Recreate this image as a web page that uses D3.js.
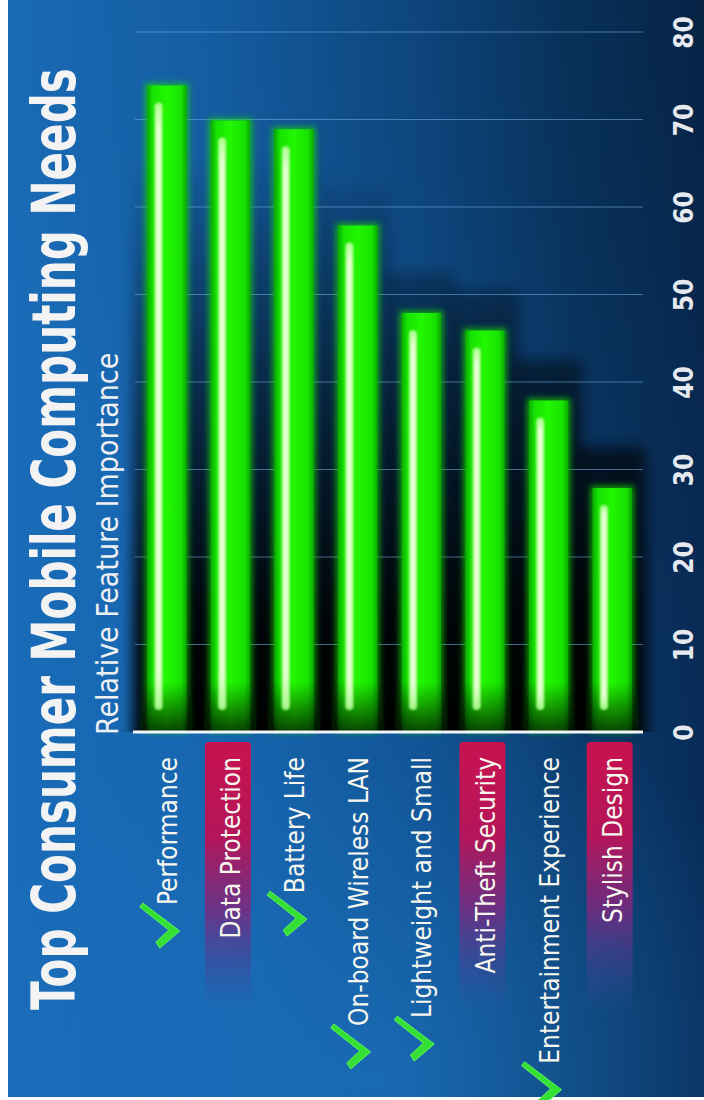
<!DOCTYPE html>
<html><head><meta charset="utf-8">
<script src="https://cdn.jsdelivr.net/npm/d3@7"></script>
<style>
body{margin:0;background:#fff;}
svg{display:block;}
.cond{font-family:'DejaVu Sans Condensed','DejaVu Sans',sans-serif;font-stretch:condensed;}
</style></head>
<body>
<script>
// ---- data ----
const categories = ["Performance","Data Protection","Battery Life","On-board Wireless LAN","Lightweight and Small","Anti-Theft Security","Entertainment Experience","Stylish Design"];
const values = [74,70,69,58,48,46,38,28];
const checked = [true,false,true,true,true,false,true,false];
const highlighted = [false,true,false,false,false,true,false,true];
const tickValues = [0,10,20,30,40,50,60,70,80];
const titleText = "Top Consumer Mobile Computing Needs";
const subtitleText = "Relative Feature Importance";

const W = 704, H = 1100;
const svg = d3.select("body").append("svg").attr("width", W).attr("height", H);
const defs = svg.append("defs");

function lin(id, attrs, stops){
  const g = defs.append("linearGradient").attr("id", id);
  Object.entries(attrs).forEach(([k,v])=>g.attr(k,v));
  stops.forEach(s=>g.append("stop").attr("offset",s[0]).attr("stop-color",s[1]).attr("stop-opacity",s[2]===undefined?1:s[2]));
}
lin("bgH",{x1:0,y1:0,x2:1,y2:0},[[0,"#1a6cb8"],[0.3,"#1664ae"],[0.6,"#0f4f8e"],[0.82,"#0a3a6a"],[1,"#082c58"]]);
const rg1 = defs.append("radialGradient").attr("id","topDark").attr("gradientUnits","userSpaceOnUse").attr("cx",704).attr("cy",0).attr("r",760);
rg1.append("stop").attr("offset",0).attr("stop-color","#000").attr("stop-opacity",0.22);
rg1.append("stop").attr("offset",1).attr("stop-color","#000").attr("stop-opacity",0);
const rg2 = defs.append("radialGradient").attr("id","botLight").attr("gradientUnits","userSpaceOnUse").attr("cx",380).attr("cy",1080).attr("r",420);
rg2.append("stop").attr("offset",0).attr("stop-color","#1f78c6").attr("stop-opacity",0.6);
rg2.append("stop").attr("offset",1).attr("stop-color","#1f78c6").attr("stop-opacity",0);
lin("shadowG",{gradientUnits:"userSpaceOnUse",x1:0,y1:150,x2:0,y2:730},[[0,"#000",0],[0.45,"#000",0.55],[0.8,"#000",0.92],[1,"#000",1]]);
lin("barG",{x1:0,y1:0,x2:1,y2:0},[[0,"#0aa800"],[0.14,"#16e200"],[0.5,"#22f700"],[0.86,"#16e200"],[1,"#0aa800"]]);
lin("barBottom",{gradientUnits:"userSpaceOnUse",x1:0,y1:682,x2:0,y2:732},[[0,"#000",0],[1,"#000",0.72]]);
lin("stripeG",{x1:0,y1:0,x2:0,y2:1},[[0,"#eaffd8",0.3],[0.04,"#eaffd8",1],[0.94,"#eaffd8",1],[1,"#eaffd8",0.2]]);
lin("tagG",{x1:0,y1:0,x2:0,y2:1},[[0,"#c8124f",1],[0.35,"#b3165a",1],[0.62,"#7a2a80",0.85],[0.85,"#4a3f95",0.4],[1,"#3a50a0",0]]);

function blur(id, sd){
  defs.append("filter").attr("id",id).attr("x","-50%").attr("y","-20%").attr("width","200%").attr("height","140%")
    .append("feGaussianBlur").attr("stdDeviation",sd);
}
blur("blur7",7); blur("blur3",3); blur("blur1",1.3);

// background slide
["bgH","topDark","botLight"].forEach(id =>
  svg.append("rect").attr("x",8).attr("y",0).attr("width",W-8).attr("height",1097).attr("fill",`url(#${id})`));

// scales
const x = d3.scaleBand().domain(categories).range([135, 644]).padding(0);
const y = d3.scaleLinear().domain([0, 80]).range([732, 32]);
const bw = x.bandwidth();
const barW = bw * 0.65;
const barX = c => x(c) + (bw - barW) / 2;
const base = y(0);

defs.append("clipPath").attr("id","plotClip").append("rect").attr("x",0).attr("y",0).attr("width",W).attr("height",base);

// shadows behind bars
svg.append("g").attr("clip-path","url(#plotClip)").append("g").attr("filter","url(#blur7)")
  .selectAll("rect").data(categories).join("rect")
  .attr("x", c => x(c) - 2).attr("width", bw + 4)
  .attr("y", (c,i) => y(values[i]) - 40).attr("height", (c,i) => base - y(values[i]) + 60)
  .attr("fill","url(#shadowG)");

// gridlines
svg.append("g").selectAll("line").data(tickValues.filter(t=>t>0)).join("line")
  .attr("x1", 135).attr("x2", 643).attr("y1", d=>y(d)).attr("y2", d=>y(d))
  .attr("stroke","#6fa6dc").attr("stroke-opacity",0.6).attr("stroke-width",1.2);

// bars
const bars = svg.append("g").selectAll("g").data(categories).join("g");
bars.append("rect").attr("filter","url(#blur3)")
  .attr("x", c => barX(c) - 1).attr("width", barW + 2)
  .attr("y", (c,i) => y(values[i]) - 1).attr("height", (c,i) => base - y(values[i]) + 1)
  .attr("fill","#19e000").attr("opacity",0.7);
bars.append("rect")
  .attr("x", c => barX(c) + 1).attr("width", barW - 2)
  .attr("y", (c,i) => y(values[i]) + 1).attr("height", (c,i) => base - y(values[i]) - 1)
  .attr("fill","url(#barG)");
bars.append("rect")
  .attr("x", c => barX(c) - 3).attr("width", barW + 6)
  .attr("y", 682).attr("height", base - 682)
  .attr("fill","url(#barBottom)");
bars.append("rect").attr("filter","url(#blur1)")
  .attr("x", c => barX(c) + barW * 0.2).attr("width", barW * 0.2)
  .attr("y", (c,i) => y(values[i]) + 18).attr("height", (c,i) => (base - 22) - (y(values[i]) + 18))
  .attr("rx", 4)
  .attr("fill","#a8ff8a").attr("opacity",0.9);
bars.append("rect").attr("filter","url(#blur1)")
  .attr("x", c => barX(c) + barW * 0.24).attr("width", barW * 0.12)
  .attr("y", (c,i) => y(values[i]) + 20).attr("height", (c,i) => (base - 24) - (y(values[i]) + 20))
  .attr("rx", 3)
  .attr("fill","url(#stripeG)");

// baseline
svg.append("line").attr("x1",133).attr("x2",643).attr("y1",base).attr("y2",base)
  .attr("stroke","#f2f5fa").attr("stroke-width",3);

// value axis (rotated labels on right)
const axis = svg.append("g").attr("transform","translate(693,0)")
  .call(d3.axisRight(y).tickValues(tickValues).tickSize(0).tickPadding(0));
axis.select(".domain").remove();
axis.selectAll("text")
  .attr("x",0).attr("dy",0).attr("transform","rotate(-90)")
  .attr("text-anchor","middle")
  .style("font-family","'DejaVu Sans Condensed','DejaVu Sans',sans-serif")
  .style("font-stretch","condensed")
  .attr("font-size",26).attr("font-weight","bold").attr("fill","#e6e9ee");

// category tags + labels
const labelTop = base + 25;
svg.append("g").selectAll("rect").data(categories.filter((c,i)=>highlighted[i])).join("rect")
  .attr("x", c => x(c) + bw/2 - 2.5 - 23).attr("width", 46)
  .attr("y", base + 10).attr("height", 270).attr("rx", 4)
  .attr("fill","url(#tagG)");

const labels = svg.append("g").selectAll("g").data(categories).join("g")
  .attr("transform", c => `translate(${x(c) + bw/2 + 10},${labelTop}) rotate(-90)`);
labels.append("text")
  .attr("class","cond")
  .attr("text-anchor","end")
  .attr("font-size",26).attr("fill","#f6f6ee")
  .text(c => c);
labels.each(function(c,i){
  if(!checked[i]) return;
  const g = d3.select(this);
  const s = -g.select("text").node().getComputedTextLength();
  const pts = [[-43,-17],[-37,-21],[-25,-8],[-2,-37],[2,-34],[-26,3]];
  g.append("path")
    .attr("d", "M" + pts.map(p => [s + p[0], p[1]].join(",")).join("L") + "Z")
    .attr("fill","#35e035").attr("stroke","#5cf25c").attr("stroke-width",1).attr("stroke-linejoin","round");
});

// title & subtitle (horizontally compressed to the slide's condensed face)
function fitText(txt, tx, ty, size, weight, fill, targetLen){
  const g = svg.append("g");
  const t = g.append("text").attr("class","cond")
    .attr("font-size",size).attr("font-weight",weight).attr("fill",fill).text(txt);
  const natural = t.node().getComputedTextLength();
  const sx = Math.min(1, targetLen / natural);
  g.attr("transform",`translate(${tx},${ty}) rotate(-90) scale(${sx},1)`);
}
fitText(titleText, 75, 1010, 60, "bold", "#f3f3f3", 942);
fitText(subtitleText, 118, 735, 30, "normal", "#eef0f2", 384);
</script>
</body></html>
